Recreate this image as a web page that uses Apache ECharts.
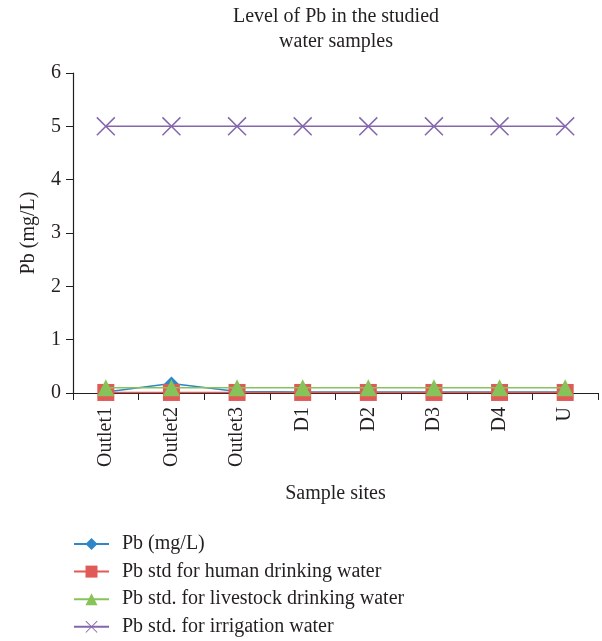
<!DOCTYPE html>
<html><head><meta charset="utf-8">
<script src="https://cdn.jsdelivr.net/npm/echarts@6/dist/echarts.min.js"></script>
<style>html,body{margin:0;padding:0;background:#fff}#c{width:602px;height:641px}</style>
</head><body><div id="c"></div>
<script>
const categories = ['Outlet1','Outlet2','Outlet3','D1','D2','D3','D4','U'];
const pbValues = [0.02, 0.18, 0.03, 0.02, 0.02, 0.02, 0.02, 0.02];
const humanStd = [0.01, 0.01, 0.01, 0.01, 0.01, 0.01, 0.01, 0.01];
const livestockStd = [0.1, 0.1, 0.1, 0.1, 0.1, 0.1, 0.1, 0.1];
const irrigationStd = [5, 5, 5, 5, 5, 5, 5, 5];
const yTicks = [0, 1, 2, 3, 4, 5, 6];

const font = 'Liberation Serif';
const txt = '#231f20';
const fs = 20;
const xPath = 'path://M0,0.55L0.55,0L10,9.45L9.45,10Z M9.45,0L10,0.55L0.55,10L0,9.45Z';

const chart = echarts.init(document.getElementById('c'), null, {renderer: 'canvas'});
chart.setOption({
  animation: false,
  backgroundColor: '#fff',
  textStyle: {fontFamily: font, color: txt},
  title: {
    text: 'Level of Pb in the studied\nwater samples',
    left: 336, top: 4, textAlign: 'center', padding: 0,
    textStyle: {fontFamily: font, fontSize: fs, fontWeight: 'normal', color: txt, lineHeight: 25}
  },
  grid: {left: 73, right: 4, top: 73, bottom: 248, containLabel: false},
  xAxis: {
    type: 'category', data: categories, boundaryGap: true,
    name: 'Sample sites', nameLocation: 'middle', nameGap: 91,
    nameTextStyle: {fontFamily: font, fontSize: fs, color: txt},
    axisLine: {lineStyle: {color: '#231f20', width: 1.2}},
    axisTick: {show: true, alignWithLabel: false, length: 7, lineStyle: {color: '#231f20'}},
    axisLabel: {rotate: 90, fontFamily: font, fontSize: fs, color: txt, margin: 14, interval: 0}
  },
  yAxis: {
    type: 'value', min: yTicks[0], max: yTicks[yTicks.length-1], interval: 1,
    name: 'Pb (mg/L)', nameLocation: 'middle', nameGap: 34,
    nameTextStyle: {fontFamily: font, fontSize: fs, color: txt},
    axisLine: {show: true, lineStyle: {color: '#231f20', width: 1.2}},
    axisTick: {show: true, length: 7, lineStyle: {color: '#231f20'}},
    splitLine: {show: false},
    axisLabel: {fontFamily: font, fontSize: fs, color: txt, margin: 12}
  },
  legend: {
    orient: 'vertical', left: 73, top: 534, padding: 0,
    itemWidth: 35, itemHeight: 15, itemGap: 7.6,
    textStyle: {fontFamily: font, fontSize: fs, color: txt, padding: [0, 0, 0, 8]},
    data: ['Pb (mg/L)','Pb std for human drinking water','Pb std. for livestock drinking water','Pb std. for irrigation water']
  },
  series: [
    {name: 'Pb (mg/L)', type: 'line', data: pbValues, symbol: 'diamond', symbolSize: 14,
     lineStyle: {color: '#2f86c9', width: 1.5}, itemStyle: {color: '#2f86c9'}, z: 2},
    {name: 'Pb std for human drinking water', type: 'line', data: humanStd, symbol: 'rect', symbolSize: 17,
     lineStyle: {color: '#e05b58', width: 1.5}, itemStyle: {color: '#e05b58'}, z: 3},
    {name: 'Pb std. for livestock drinking water', type: 'line', data: livestockStd, symbol: 'triangle', symbolSize: 17,
     lineStyle: {color: '#86c45a', width: 1.5}, itemStyle: {color: '#86c45a'}, z: 4},
    {name: 'Pb std. for irrigation water', type: 'line', data: irrigationStd, symbol: xPath, symbolSize: 19,
     lineStyle: {color: '#8466ad', width: 1.5}, itemStyle: {color: '#8466ad'}, z: 5}
  ]
});
</script></body></html>
